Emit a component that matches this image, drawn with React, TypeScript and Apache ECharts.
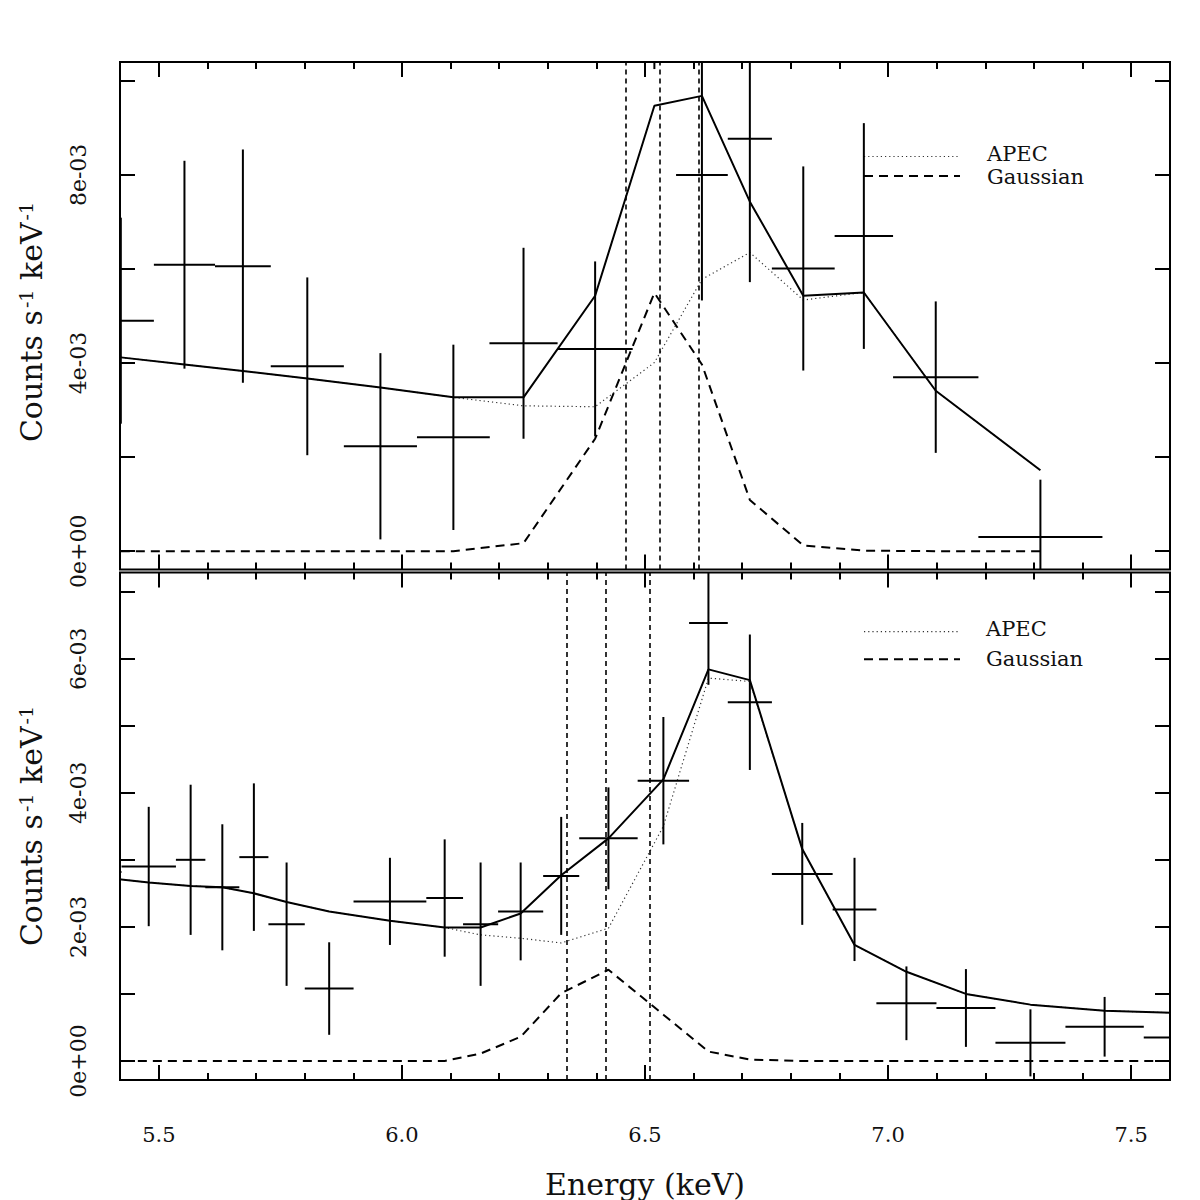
import React, { useEffect, useRef } from "react";
import * as echarts from "echarts";

// ---------- axes ----------
const X_MIN = 5.42;
const X_MAX = 7.58;
const X_MAJOR = [5.5, 6.0, 6.5, 7.0, 7.5];
const X_MAJOR_LABELS = ["5.5", "6.0", "6.5", "7.0", "7.5"];
const X_MINOR = [5.6, 5.7, 5.8, 5.9, 6.1, 6.2, 6.3, 6.4, 6.6, 6.7, 6.8, 6.9, 7.1, 7.2, 7.3, 7.4];

const TOP_Y_MIN = -0.39e-3;
const TOP_Y_MAX = 10.4e-3;
const TOP_Y_TICKS = [0, 2e-3, 4e-3, 6e-3, 8e-3, 10e-3];
const TOP_Y_LABEL_VALUES = [0, 4e-3, 8e-3];
const TOP_Y_LABELS = ["0e+00", "4e-03", "8e-03"];

const BOT_Y_MIN = -0.284e-3;
const BOT_Y_MAX = 7.285e-3;
const BOT_Y_TICKS = [0, 1e-3, 2e-3, 3e-3, 4e-3, 5e-3, 6e-3, 7e-3];
const BOT_Y_LABEL_VALUES = [0, 2e-3, 4e-3, 6e-3];
const BOT_Y_LABELS = ["0e+00", "2e-03", "4e-03", "6e-03"];

const X_TITLE = "Energy (keV)";
const LEGEND_LABELS = ["APEC", "Gaussian"];

// ---------- upper spectrum ----------
const TOP_E = [5.4217, 5.5526, 5.6728, 5.8053, 5.9557, 6.1058, 6.2501, 6.3974, 6.5193, 6.6171, 6.7157, 6.8256, 6.9502, 7.0981, 7.3134];
const TOP_HW = [0.068, 0.0629, 0.0574, 0.0752, 0.0752, 0.0749, 0.0701, 0.0773, 0.0447, 0.0532, 0.0454, 0.0646, 0.0601, 0.0878, 0.1276];
const TOP_RATE = [4.90e-3, 6.09e-3, 6.06e-3, 3.93e-3, 2.23e-3, 2.42e-3, 4.42e-3, 4.30e-3, 12.2e-3, 8.00e-3, 8.77e-3, 6.01e-3, 6.70e-3, 3.70e-3, 0.30e-3];
const TOP_ERR = [2.19e-3, 2.21e-3, 2.48e-3, 1.89e-3, 1.98e-3, 1.97e-3, 2.03e-3, 1.86e-3, 1.95e-3, 2.67e-3, 3.05e-3, 2.17e-3, 2.40e-3, 1.61e-3, 1.22e-3];
const TOP_TOTAL = [4.12e-3, 3.97e-3, 3.83e-3, 3.67e-3, 3.48e-3, 3.27e-3, 3.27e-3, 5.43e-3, 9.47e-3, 9.68e-3, 7.43e-3, 5.43e-3, 5.50e-3, 3.41e-3, 1.72e-3];
const TOP_APEC = [4.12e-3, 3.97e-3, 3.83e-3, 3.67e-3, 3.48e-3, 3.27e-3, 3.09e-3, 3.07e-3, 4.01e-3, 5.78e-3, 6.35e-3, 5.34e-3, 5.50e-3, 3.41e-3, 1.72e-3];
const TOP_GAUSS = [0, 0, 0, 0, 0, 0, 0.17e-3, 2.39e-3, 5.49e-3, 3.97e-3, 1.09e-3, 0.12e-3, 0.01e-3, 0, 0];
const TOP_LINE_E = [6.4602, 6.5295, 6.6099];

// ---------- lower spectrum ----------
const BOT_E = [5.395, 5.4791, 5.5653, 5.6305, 5.6954, 5.7627, 5.8503, 5.9753, 6.0879, 6.1618, 6.2442, 6.3276, 6.4248, 6.5378, 6.6305, 6.7157, 6.8235, 6.931, 7.0378, 7.1602, 7.2929, 7.4455, 7.62];
const BOT_HW = [0.028, 0.056, 0.0303, 0.035, 0.0299, 0.0374, 0.0502, 0.0749, 0.0378, 0.0361, 0.0464, 0.0371, 0.0601, 0.0529, 0.0398, 0.0454, 0.0625, 0.045, 0.0618, 0.0607, 0.072, 0.0806, 0.094];
const BOT_RATE = [2.82e-3, 2.90e-3, 3.00e-3, 2.59e-3, 3.04e-3, 2.04e-3, 1.08e-3, 2.38e-3, 2.43e-3, 2.04e-3, 2.23e-3, 2.76e-3, 3.32e-3, 4.18e-3, 6.53e-3, 5.35e-3, 2.79e-3, 2.26e-3, 0.86e-3, 0.79e-3, 0.27e-3, 0.51e-3, 0.35e-3];
const BOT_ERR = [0.90e-3, 0.89e-3, 1.12e-3, 0.94e-3, 1.10e-3, 0.92e-3, 0.69e-3, 0.65e-3, 0.875e-3, 0.92e-3, 0.73e-3, 0.88e-3, 0.76e-3, 0.95e-3, 0.92e-3, 1.01e-3, 0.76e-3, 0.77e-3, 0.55e-3, 0.58e-3, 0.50e-3, 0.445e-3, 0.42e-3];
const BOT_TOTAL = [2.73e-3, 2.66e-3, 2.61e-3, 2.59e-3, 2.50e-3, 2.37e-3, 2.23e-3, 2.09e-3, 1.99e-3, 1.99e-3, 2.20e-3, 2.77e-3, 3.32e-3, 4.20e-3, 5.84e-3, 5.68e-3, 3.16e-3, 1.73e-3, 1.33e-3, 1.00e-3, 0.84e-3, 0.75e-3, 0.71e-3];
const BOT_APEC = [2.73e-3, 2.66e-3, 2.61e-3, 2.59e-3, 2.50e-3, 2.37e-3, 2.23e-3, 2.09e-3, 1.99e-3, 1.88e-3, 1.83e-3, 1.76e-3, 1.98e-3, 3.50e-3, 5.71e-3, 5.66e-3, 3.16e-3, 1.73e-3, 1.33e-3, 1.00e-3, 0.84e-3, 0.75e-3, 0.71e-3];
const BOT_GAUSS = [0, 0, 0, 0, 0, 0, 0, 0, 0, 0.11e-3, 0.36e-3, 1.01e-3, 1.36e-3, 0.69e-3, 0.14e-3, 0.02e-3, 0, 0, 0, 0, 0, 0, 0];
const BOT_LINE_E = [6.3386, 6.4196, 6.5103];

// ---------- styling ----------
const FONT = '"DejaVu Serif", serif';
const INK = "#111";
const GRID_LEFT = 120;
const GRID_WIDTH = 1050;
const PANEL_H = 507.5;
const TOP_GRID_TOP = 62;
const BOT_GRID_TOP = 572.5;

const pairs = (xs: number[], ys: number[]) => xs.map((x, i) => [x, ys[i]]);
const crosses = (es: number[], hws: number[], vs: number[], errs: number[]) =>
  es.map((e, i) => [e, hws[i], vs[i], errs[i]]);

const lookupLabel = (vals: number[], labels: string[]) => (v: number) => {
  const i = vals.findIndex((t) => Math.abs(t - v) < 1e-9);
  return i >= 0 ? labels[i] : "";
};

// Error-bar cross: horizontal bin width and vertical 1-sigma bar, kept inside the panel.
function crossItem(params: any, api: any) {
  const e = api.value(0);
  const hw = api.value(1);
  const v = api.value(2);
  const err = api.value(3);
  const cs = params.coordSys;
  const left = cs.x;
  const right = cs.x + cs.width;
  const top = cs.y;
  const bottom = cs.y + cs.height;
  const pl = api.coord([e - hw, v]);
  const pr = api.coord([e + hw, v]);
  const pt = api.coord([e, v + err]);
  const pb = api.coord([e, v - err]);
  const style = { stroke: "#000", lineWidth: 2 };
  const children: any[] = [];
  const yc = pl[1];
  if (yc >= top && yc <= bottom) {
    const a = Math.max(pl[0], left);
    const b = Math.min(pr[0], right);
    if (b > a) children.push({ type: "line", shape: { x1: a, y1: yc, x2: b, y2: yc }, style });
  }
  const xc = pt[0];
  if (xc >= left && xc <= right) {
    const a = Math.max(pt[1], top);
    const b = Math.min(pb[1], bottom);
    if (b > a) children.push({ type: "line", shape: { x1: xc, y1: a, x2: xc, y2: b }, style });
  }
  return { type: "group", children };
}

const tick = (vals: number[], len: number) => ({
  show: true,
  inside: true,
  length: len,
  customValues: vals,
  lineStyle: { color: "#000", width: 2 },
});

function xAxesFor(grid: number, withLabels: boolean) {
  const base = {
    type: "value",
    gridIndex: grid,
    min: X_MIN,
    max: X_MAX,
    axisLine: { show: false, onZero: false },
    splitLine: { show: false },
  };
  return [
    {
      ...base,
      position: "bottom",
      axisTick: tick(X_MAJOR, 15),
      axisLabel: withLabels
        ? {
            show: true,
            customValues: X_MAJOR,
            formatter: lookupLabel(X_MAJOR, X_MAJOR_LABELS),
            margin: 44,
            fontSize: 21,
            fontFamily: FONT,
            color: INK,
          }
        : { show: false },
    },
    { ...base, position: "bottom", axisTick: tick(X_MINOR, 7), axisLabel: { show: false } },
    { ...base, position: "top", axisTick: tick(X_MAJOR, 15), axisLabel: { show: false } },
    { ...base, position: "top", axisTick: tick(X_MINOR, 7), axisLabel: { show: false } },
  ];
}

function yAxesFor(grid: number, min: number, max: number, ticks: number[], labelVals: number[], labels: string[]) {
  const base = {
    type: "value",
    gridIndex: grid,
    min,
    max,
    axisLine: { show: false, onZero: false },
    splitLine: { show: false },
    axisTick: tick(ticks, 15),
  };
  return [
    {
      ...base,
      position: "left",
      axisLabel: {
        show: true,
        customValues: labelVals,
        formatter: lookupLabel(labelVals, labels),
        rotate: 90,
        margin: 31,
        fontSize: 22,
        fontFamily: FONT,
        color: INK,
      },
    },
    { ...base, position: "right", axisLabel: { show: false } },
  ];
}

function panelSeries(
  grid: number,
  e: number[],
  hw: number[],
  rate: number[],
  err: number[],
  total: number[],
  apec: number[],
  gauss: number[],
  lineE: number[]
) {
  const xi = grid * 4;
  const yi = grid * 2;
  return [
    {
      type: "line",
      xAxisIndex: xi,
      yAxisIndex: yi,
      data: pairs(e, apec),
      symbol: "none",
      showSymbol: false,
      silent: true,
      lineStyle: { color: "#333", width: 1.2, type: [1.2, 3] },
      z: 2,
    },
    {
      type: "line",
      xAxisIndex: xi,
      yAxisIndex: yi,
      data: pairs(e, gauss),
      symbol: "none",
      showSymbol: false,
      silent: true,
      lineStyle: { color: "#000", width: 2, type: [9, 6] },
      z: 2,
    },
    {
      type: "line",
      xAxisIndex: xi,
      yAxisIndex: yi,
      data: pairs(e, total),
      symbol: "none",
      showSymbol: false,
      silent: true,
      lineStyle: { color: "#000", width: 2 },
      z: 3,
      markLine: {
        silent: true,
        symbol: ["none", "none"],
        label: { show: false },
        lineStyle: { color: "#000", width: 1.6, type: [5, 4] },
        data: lineE.map((x) => ({ xAxis: x })),
      },
    },
    {
      type: "custom",
      xAxisIndex: xi,
      yAxisIndex: yi,
      renderItem: crossItem,
      data: crosses(e, hw, rate, err),
      encode: { x: 0, y: 2 },
      silent: true,
      z: 4,
    },
  ];
}

function yTitle(y: number) {
  return {
    type: "text",
    x: 31,
    y,
    rotation: Math.PI / 2,
    style: {
      text: "{n|Counts s}{s|-1}{n| keV}{s|-1}",
      align: "center",
      verticalAlign: "middle",
      fill: INK,
      rich: {
        n: { fontSize: 30, fontFamily: FONT, fill: INK },
        s: { fontSize: 19, fontFamily: FONT, fill: INK, verticalAlign: "top", padding: [0, 0, 0, 2] },
      },
    },
  };
}

function legendKey(x1: number, x2: number, yDot: number, yDash: number, xText: number, yApec: number, yGauss: number) {
  const txt = (text: string, y: number) => ({
    type: "text",
    x: xText,
    y,
    style: { text, fontSize: 21, lineHeight: 20, fontFamily: FONT, fill: INK, align: "left", verticalAlign: "middle" },
  });
  return [
    {
      type: "line",
      shape: { x1, y1: yDot, x2, y2: yDot },
      style: { stroke: "#333", lineWidth: 1.2, lineDash: [1.2, 3] },
    },
    {
      type: "line",
      shape: { x1, y1: yDash, x2, y2: yDash },
      style: { stroke: "#000", lineWidth: 2, lineDash: [9, 6] },
    },
    txt(LEGEND_LABELS[0], yApec),
    txt(LEGEND_LABELS[1], yGauss),
  ];
}

function buildOption() {
  return {
    animation: false,
    backgroundColor: "#fff",
    grid: [
      { left: GRID_LEFT, top: TOP_GRID_TOP, width: GRID_WIDTH, height: PANEL_H, show: true, borderColor: "#000", borderWidth: 2 },
      { left: GRID_LEFT, top: BOT_GRID_TOP, width: GRID_WIDTH, height: PANEL_H, show: true, borderColor: "#000", borderWidth: 2 },
    ],
    xAxis: [...xAxesFor(0, false), ...xAxesFor(1, true)],
    yAxis: [
      ...yAxesFor(0, TOP_Y_MIN, TOP_Y_MAX, TOP_Y_TICKS, TOP_Y_LABEL_VALUES, TOP_Y_LABELS),
      ...yAxesFor(1, BOT_Y_MIN, BOT_Y_MAX, BOT_Y_TICKS, BOT_Y_LABEL_VALUES, BOT_Y_LABELS),
    ],
    series: [
      ...panelSeries(0, TOP_E, TOP_HW, TOP_RATE, TOP_ERR, TOP_TOTAL, TOP_APEC, TOP_GAUSS, TOP_LINE_E),
      ...panelSeries(1, BOT_E, BOT_HW, BOT_RATE, BOT_ERR, BOT_TOTAL, BOT_APEC, BOT_GAUSS, BOT_LINE_E),
    ],
    graphic: [
      yTitle(322),
      yTitle(826),
      {
        type: "text",
        x: 645,
        y: 1184,
        style: { text: X_TITLE, fontSize: 30, fontFamily: FONT, fill: INK, align: "center", verticalAlign: "middle" },
      },
      ...legendKey(864, 960, 156.5, 176, 987, 154, 177),
      ...legendKey(864, 960, 631.7, 659.3, 986, 628.5, 658.5),
    ],
  };
}

export default function App() {
  const ref = useRef<HTMLDivElement>(null);
  useEffect(() => {
    document.body.style.margin = "0";
    const chart = echarts.init(ref.current as HTMLDivElement, null, { renderer: "svg", width: 1200, height: 1200 });
    chart.setOption(buildOption() as any);
    return () => chart.dispose();
  }, []);
  return <div ref={ref} style={{ width: 1200, height: 1200 }} />;
}
